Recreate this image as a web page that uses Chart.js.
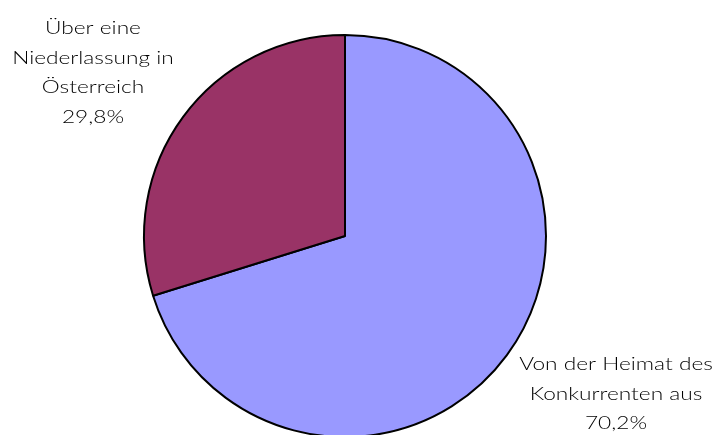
<!DOCTYPE html>
<html>
<head>
<meta charset="utf-8">
<script src="https://cdn.jsdelivr.net/npm/chart.js@4/dist/chart.umd.min.js"></script>
<style>
  html, body { margin: 0; padding: 0; background: #fff; }
  #wrap { width: 721px; height: 435px; }
</style>
</head>
<body>
<div id="wrap"><canvas id="pie" width="721" height="435"></canvas></div>
<script>
// Anteile der Wege, über die die Konkurrenz den Markt bedient
var labels = [
    ['Von der Heimat des', 'Konkurrenten aus'],
    ['Über eine', 'Niederlassung in', 'Österreich']
];
var values = [70.2, 29.8];
var valueLabels = ['70,2%', '29,8%'];
var colors = ['#9999FF', '#993366'];

// Beschriftungen außerhalb des Kreises (Grundlinie der ersten Zeile)
var labelPos = [
    { x: 616, y: 370 },
    { x: 93, y: 34 }
];

var outsideLabels = {
    id: 'outsideLabels',
    afterDatasetsDraw: function (chart) {
        var ctx = chart.ctx;
        var lineH = 29.5;
        var stretch = 1.26;   // breite Schrift nachbilden
        ctx.save();
        ctx.fillStyle = '#000';
        ctx.font = '300 18px Lato, "DejaVu Sans", sans-serif';
        ctx.textAlign = 'center';
        ctx.textBaseline = 'alphabetic';
        for (var i = 0; i < labels.length; i++) {
            var lines = labels[i].concat([valueLabels[i]]);
            for (var j = 0; j < lines.length; j++) {
                ctx.save();
                ctx.translate(labelPos[i].x, labelPos[i].y + j * lineH);
                ctx.scale(stretch, 1);
                ctx.fillText(lines[j], 0, 0);
                ctx.restore();
            }
        }
        ctx.restore();
    }
};

var ctx = document.getElementById('pie').getContext('2d');
var myChart = new Chart(ctx, {
    type: 'pie',
    data: {
        labels: labels,
        datasets: [{
            data: values,
            backgroundColor: colors,
            borderColor: '#000',
            borderWidth: 2,
            radius: 201
        }]
    },
    options: {
        responsive: false,
        animation: false,
        rotation: 0,
        layout: { padding: { left: 0, right: 31, top: 37, bottom: 0 } },
        plugins: {
            legend: { display: false },
            tooltip: { enabled: false }
        }
    },
    plugins: [outsideLabels]
});
</script>
</body>
</html>
